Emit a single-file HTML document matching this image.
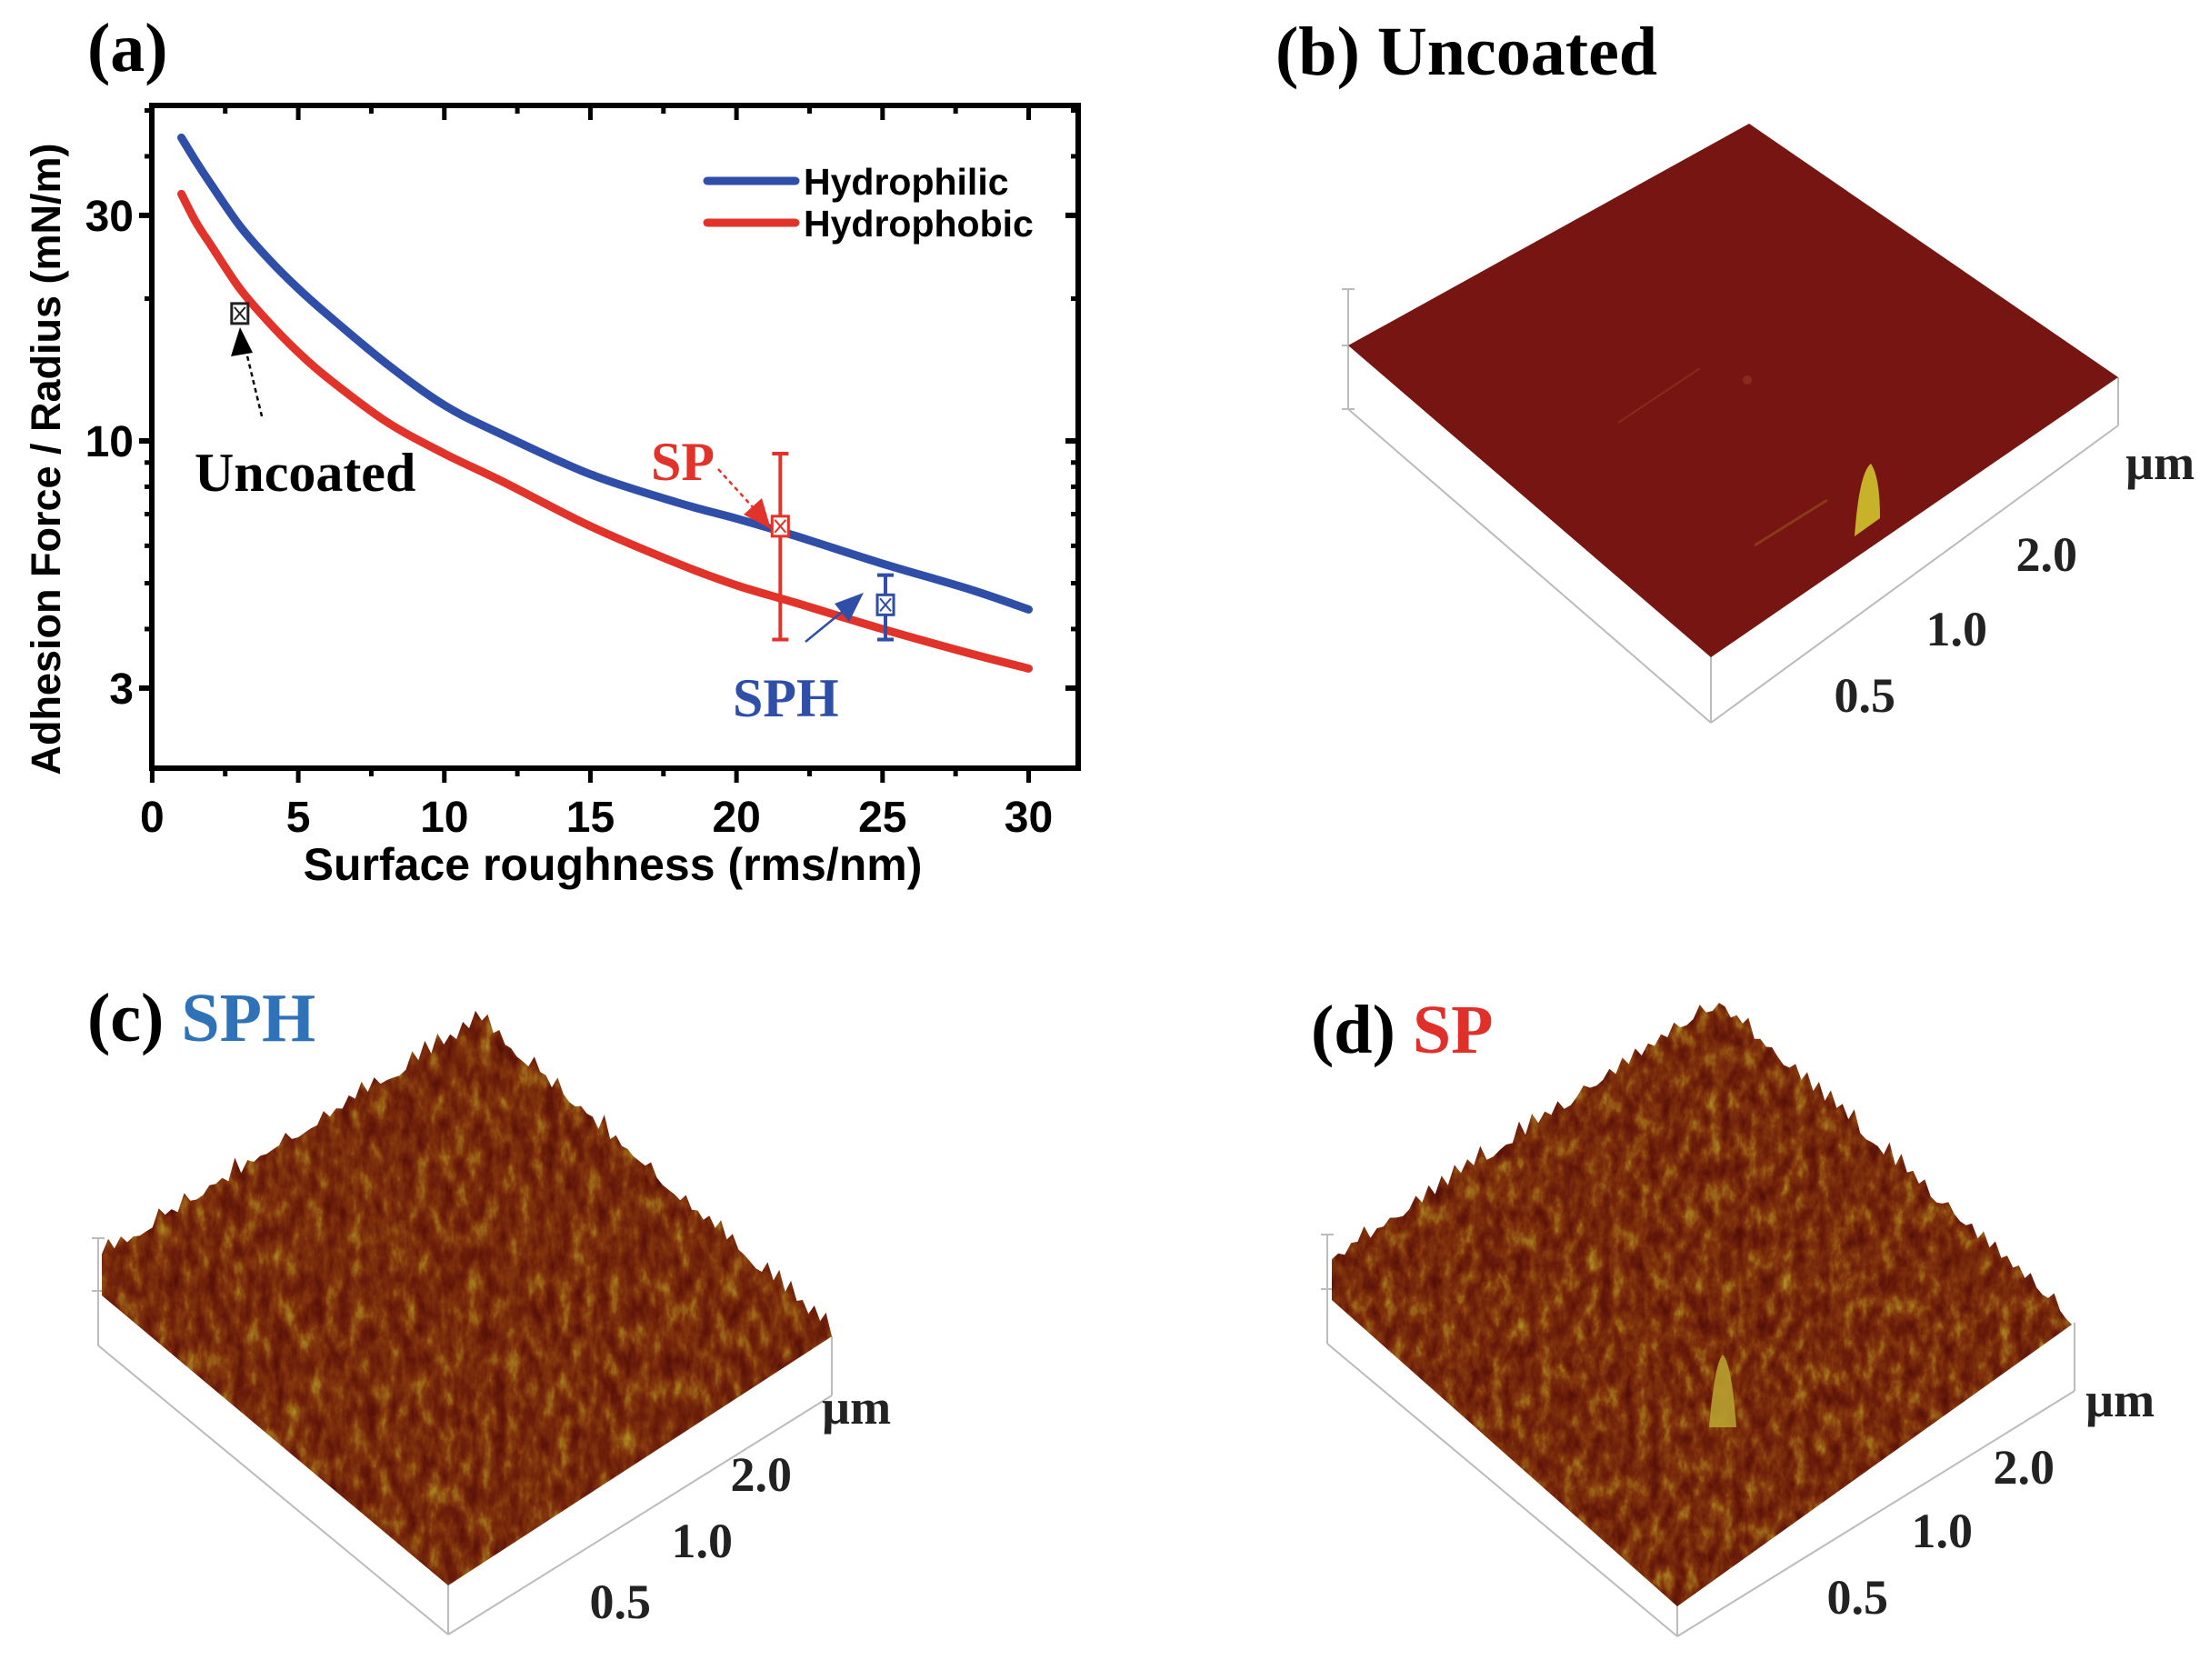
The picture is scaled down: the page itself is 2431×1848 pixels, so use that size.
<!DOCTYPE html>
<html><head><meta charset="utf-8">
<style>
html,body{margin:0;padding:0;background:#fff;}
svg{display:block;}
.sans{font-family:"Liberation Sans",sans-serif;font-weight:bold;}
.serif{font-family:"Liberation Serif",serif;font-weight:bold;}
</style></head>
<body>
<svg id="fig" width="2431" height="1848" viewBox="0 0 2431 1848" xmlns="http://www.w3.org/2000/svg">
<defs>
  <filter id="rough" x="0" y="0" width="100%" height="100%" color-interpolation-filters="sRGB">
    <feTurbulence type="fractalNoise" baseFrequency="0.07 0.035" numOctaves="5" seed="3"/>
    <feColorMatrix type="matrix" values="1 0 0 0 0 1 0 0 0 0 1 0 0 0 0 0 0 0 0 1"/>
    <feComponentTransfer>
      <feFuncR type="table" tableValues="0.30 0.36 0.44 0.52 0.62 0.72"/>
      <feFuncG type="table" tableValues="0.05 0.08 0.13 0.22 0.42 0.62"/>
      <feFuncB type="table" tableValues="0.02 0.03 0.04 0.05 0.10 0.16"/>
      <feFuncA type="linear" slope="0" intercept="1"/>
    </feComponentTransfer>
  </filter>
  <filter id="rough2" x="0" y="0" width="100%" height="100%" color-interpolation-filters="sRGB">
    <feTurbulence type="fractalNoise" baseFrequency="0.075 0.04" numOctaves="5" seed="11"/>
    <feColorMatrix type="matrix" values="1 0 0 0 0 1 0 0 0 0 1 0 0 0 0 0 0 0 0 1"/>
    <feComponentTransfer>
      <feFuncR type="table" tableValues="0.30 0.36 0.44 0.52 0.62 0.72"/>
      <feFuncG type="table" tableValues="0.05 0.08 0.13 0.22 0.42 0.62"/>
      <feFuncB type="table" tableValues="0.02 0.03 0.04 0.05 0.10 0.16"/>
      <feFuncA type="linear" slope="0" intercept="1"/>
    </feComponentTransfer>
  </filter>
  <clipPath id="clipC"><polygon id="polyC" points="112,1380 530,1128 915,1470 493,1744 112,1420"/></clipPath>
  <clipPath id="clipD"><polygon id="polyD" points="1465,1387 1891,1108 2279,1457 1845,1767 1465,1430"/></clipPath>
</defs>

<g>
  <text class="serif" x="96" y="78" font-size="76">(a)</text>
  <g id="plotA"></g>
</g>

<g>
  <text class="serif" x="1403" y="82" font-size="76">(b) Uncoated</text>
  <g stroke="#bbb" stroke-width="2" fill="none">
    <line x1="1483" y1="318" x2="1483" y2="450"/>
    <line x1="1476" y1="318" x2="1490" y2="318"/>
    <line x1="1476" y1="380" x2="1490" y2="380"/>
    <line x1="1476" y1="450" x2="1490" y2="450"/>
    <line x1="1483" y1="450" x2="1882" y2="795"/>
    <line x1="1882" y1="721" x2="1882" y2="795"/>
    <line x1="1882" y1="795" x2="2330" y2="468"/>
    <line x1="2330" y1="415" x2="2330" y2="468"/>
  </g>
  <polygon points="1924,136 2330,415 1882,723 1483,380" fill="#761511"/>
  <line x1="1780" y1="465" x2="1870" y2="405" stroke="#8a2a1a" stroke-width="2"/>
  <circle cx="1922" cy="418" r="5" fill="#8a2a1a"/>
  <line x1="1930" y1="600" x2="2010" y2="550" stroke="#8a3a1a" stroke-width="3"/>
  <path d="M2040,590 Q2045,520 2058,510 Q2068,525 2068,570 Z" fill="#c8b22a"/>
  <g class="serif" font-size="54" fill="#222">
    <text x="2338" y="527">µm</text>
    <text x="2285" y="628" text-anchor="end">2.0</text>
    <text x="2186" y="710" text-anchor="end">1.0</text>
    <text x="2085" y="783" text-anchor="end">0.5</text>
  </g>
</g>

<g>
  <text class="serif" x="96" y="1145" font-size="76">(c) <tspan fill="#2f72b8">SPH</tspan></text>
  <g stroke="#bbb" stroke-width="2" fill="none">
    <line x1="108" y1="1362" x2="108" y2="1480"/>
    <line x1="101" y1="1362" x2="115" y2="1362"/>
    <line x1="101" y1="1420" x2="115" y2="1420"/>
    <line x1="108" y1="1480" x2="493" y2="1798"/>
    <line x1="493" y1="1740" x2="493" y2="1798"/>
    <line x1="493" y1="1798" x2="915" y2="1535"/>
    <line x1="915" y1="1470" x2="915" y2="1535"/>
  </g>
  <rect x="90" y="1060" width="850" height="700" filter="url(#rough)" clip-path="url(#clipC)"/>
  <g class="serif" font-size="54" fill="#222">
    <text x="904" y="1566">µm</text>
    <text x="871" y="1640" text-anchor="end">2.0</text>
    <text x="806" y="1713" text-anchor="end">1.0</text>
    <text x="716" y="1780" text-anchor="end">0.5</text>
  </g>
</g>

<g>
  <text class="serif" x="1442" y="1158" font-size="76">(d) <tspan fill="#e0302a">SP</tspan></text>
  <g stroke="#bbb" stroke-width="2" fill="none">
    <line x1="1460" y1="1358" x2="1460" y2="1478"/>
    <line x1="1453" y1="1358" x2="1467" y2="1358"/>
    <line x1="1453" y1="1418" x2="1467" y2="1418"/>
    <line x1="1460" y1="1478" x2="1845" y2="1800"/>
    <line x1="1845" y1="1750" x2="1845" y2="1800"/>
    <line x1="1845" y1="1800" x2="2282" y2="1530"/>
    <line x1="2282" y1="1455" x2="2282" y2="1530"/>
  </g>
  <rect x="1440" y="1060" width="870" height="730" filter="url(#rough2)" clip-path="url(#clipD)"/>
  <path d="M1880,1570 Q1886,1500 1895,1490 Q1905,1500 1910,1570 Z" fill="#b8a030" opacity="0.9"/>
  <g class="serif" font-size="54" fill="#222">
    <text x="2294" y="1558">µm</text>
    <text x="2260" y="1632" text-anchor="end">2.0</text>
    <text x="2170" y="1702" text-anchor="end">1.0</text>
    <text x="2077" y="1775" text-anchor="end">0.5</text>
  </g>
</g>
</svg>

<script>
const xsSample = [1, 1.5, 2, 3, 4, 5, 6, 8, 10, 12, 15, 18, 20, 22, 25, 28, 30];
const hydrophilicValues = [43.8, 39, 35, 28.5, 24.2, 21, 18.5, 14.6, 11.9, 10.3, 8.5, 7.4, 6.85, 6.3, 5.5, 4.85, 4.4];
const hydrophobicValues = [33.3, 29, 26, 21, 17.8, 15.4, 13.6, 11, 9.4, 8.2, 6.6, 5.5, 4.95, 4.55, 4.0, 3.55, 3.3];
const xTickLabels = [0, 5, 10, 15, 20, 25, 30];
const yTickLabels = [3, 10, 30];
const yMinorTicks = [2, 4, 5, 6, 7, 8, 9, 20, 40, 50];
const pointNames = ["Uncoated", "SP", "SPH"];
const pointX = [3, 21.5, 25.1];
const pointY = [18.6, 6.6, 4.5];
const pointErrLow = [18.6, 3.8, 3.8];
const pointErrHigh = [18.6, 9.4, 5.2];

const NS = "http://www.w3.org/2000/svg";
const g = document.getElementById("plotA");
const L = 167, R = 1186, T = 116, B = 845;
function X(v){ return 167.4 + v / 30 * (1131.5 - 167.4); }
function Y(v){ return 485 - (Math.log10(v) - 1) * 520; }
function mk(tag, attrs, parent){
  const e = document.createElementNS(NS, tag);
  for (const k in attrs) e.setAttribute(k, attrs[k]);
  (parent || g).appendChild(e);
  return e;
}
function smooth(xs, ys){
  const p = xs.map((x, i) => [X(x), Y(ys[i])]);
  let d = "M" + p[0][0] + "," + p[0][1];
  for (let i = 0; i < p.length - 1; i++){
    const p0 = p[Math.max(0, i - 1)], p1 = p[i], p2 = p[i + 1], p3 = p[Math.min(p.length - 1, i + 2)];
    const c1 = [p1[0] + (p2[0] - p0[0]) / 6, p1[1] + (p2[1] - p0[1]) / 6];
    const c2 = [p2[0] - (p3[0] - p1[0]) / 6, p2[1] - (p3[1] - p1[1]) / 6];
    d += " C" + c1 + " " + c2 + " " + p2;
  }
  return d;
}

const frame = mk("rect", {x: L, y: T, width: R - L, height: B - T, fill: "none", stroke: "#000", "stroke-width": 6});



for (let v = 0; v <= 31; v += 2.5){
  const major = v % 5 === 0;
  const x = X(v);
  mk("line", {x1: x, y1: B, x2: x, y2: B + (major ? 16 : 9), stroke: "#000", "stroke-width": 5});
  mk("line", {x1: x, y1: T, x2: x, y2: T + (major ? 16 : 9), stroke: "#000", "stroke-width": 5});
}
xTickLabels.forEach(v => {
  const t = mk("text", {x: X(v), y: 915, "text-anchor": "middle", "font-size": 48, class: "sans"});
  t.textContent = v;
  
  
});
yTickLabels.forEach(v => {
  const y = Y(v);
  mk("line", {x1: L - 14, y1: y, x2: L, y2: y, stroke: "#000", "stroke-width": 6});
  mk("line", {x1: R - 14, y1: y, x2: R, y2: y, stroke: "#000", "stroke-width": 6});
  const t = mk("text", {x: L - 20, y: y + 17, "text-anchor": "end", "font-size": 48, class: "sans"});
  t.textContent = v;
  
  
});
yMinorTicks.forEach(v => {
  const y = Y(v);
  if (y < T || y > B) return;
  mk("line", {x1: L - 8, y1: y, x2: L, y2: y, stroke: "#000", "stroke-width": 5});
  mk("line", {x1: R - 8, y1: y, x2: R, y2: y, stroke: "#000", "stroke-width": 5});
});
const xt = mk("text", {x: 674, y: 968, "text-anchor": "middle", "font-size": 50, class: "sans"});
xt.textContent = "Surface roughness (rms/nm)";


const yt = mk("text", {x: 0, y: 0, "text-anchor": "middle", "font-size": 45, class: "sans", transform: "translate(66,505) rotate(-90)"});
yt.textContent = "Adhesion Force / Radius (mN/m)";



const cb = mk("path", {d: smooth(xsSample, hydrophilicValues), fill: "none", stroke: "#2f4ea8", "stroke-width": 9, "stroke-linecap": "round"});


const cr = mk("path", {d: smooth(xsSample, hydrophobicValues), fill: "none", stroke: "#e2332a", "stroke-width": 9, "stroke-linecap": "round"});



const lg = mk("g", {});


mk("line", {x1: 778, y1: 199, x2: 875, y2: 199, stroke: "#2f4ea8", "stroke-width": 9, "stroke-linecap": "round"}, lg);
mk("line", {x1: 778, y1: 245, x2: 875, y2: 245, stroke: "#e2332a", "stroke-width": 9, "stroke-linecap": "round"}, lg);
const l1 = mk("text", {x: 884, y: 214, "font-size": 41, class: "sans"}, lg); l1.textContent = "Hydrophilic";


const l2 = mk("text", {x: 884, y: 260, "font-size": 41, class: "sans"}, lg); l2.textContent = "Hydrophobic";



const pColors = ["#222", "#e2332a", "#2f4ea8"];
pointNames.forEach((n, i) => {
  const x = X(pointX[i]), y = Y(pointY[i]);
  const c = pColors[i];
  if (pointErrHigh[i] !== pointErrLow[i]){
    const yh = Y(pointErrHigh[i]), yl = Y(pointErrLow[i]);
    const eb = mk("path", {d: `M${x},${yh} V${yl} M${x-9},${yh} H${x+9} M${x-9},${yl} H${x+9}`, stroke: c, "stroke-width": 4, fill: "none"});
    
    
  }
  const m = mk("rect", {x: x - 9, y: y - 11, width: 18, height: 22, fill: "#fff", stroke: c, "stroke-width": 3});
  
  
  mk("path", {d: `M${x-6},${y-7} L${x+6},${y+7} M${x+6},${y-7} L${x-6},${y+7}`, stroke: c, "stroke-width": 2});
});

mk("line", {x1: 288, y1: 458, x2: 268, y2: 375, stroke: "#000", "stroke-width": 2.5, "stroke-dasharray": "5,4"});
mk("path", {d: "M264,360 L254,392 L278,388 z", fill: "#000"});
const ua = mk("text", {x: 214, y: 540, "font-size": 60, class: "serif"}); ua.textContent = "Uncoated";


mk("line", {x1: 790, y1: 516, x2: 830, y2: 560, stroke: "#e2332a", "stroke-width": 2.5, "stroke-dasharray": "5,4"});
mk("path", {d: "M848,582 L818,566 L838,548 z", fill: "#e2332a"});
const spa = mk("text", {x: 716, y: 528, "font-size": 60, class: "serif", fill: "#e2332a"}); spa.textContent = "SP";


mk("line", {x1: 886, y1: 706, x2: 930, y2: 670, stroke: "#2f4ea8", "stroke-width": 2.5});
mk("path", {d: "M950,652 L918,664 L934,684 z", fill: "#2f4ea8"});
const spha = mk("text", {x: 806, y: 788, "font-size": 60, class: "serif", fill: "#2f4ea8"}); spha.textContent = "SPH";



function jag(id, left, top, right, bottom, seed){
  const pts = [];
  const edge = (a, b, n) => {
    for (let k = 0; k < n; k++){
      const t = k / n;
      const x = a[0] + (b[0] - a[0]) * t, y = a[1] + (b[1] - a[1]) * t;
      const s = Math.sin(k * 12.9898 + seed) * 43758.5453;
      const r = s - Math.floor(s);
      pts.push([x, y - (k % 2 ? r * 22 : r * 6)]);
    }
  };
  edge(left, top, 60); edge(top, right, 60);
  pts.push(right, bottom, [left[0], left[1] + 40]);
  document.getElementById(id).setAttribute("points", pts.map(p => p[0].toFixed(1) + "," + p[1].toFixed(1)).join(" "));
}
jag("polyC", [112, 1385], [530, 1128], [915, 1470], [493, 1744], 1.3);
jag("polyD", [1465, 1390], [1891, 1108], [2279, 1457], [1845, 1767], 4.7);
</script>
</body></html>
